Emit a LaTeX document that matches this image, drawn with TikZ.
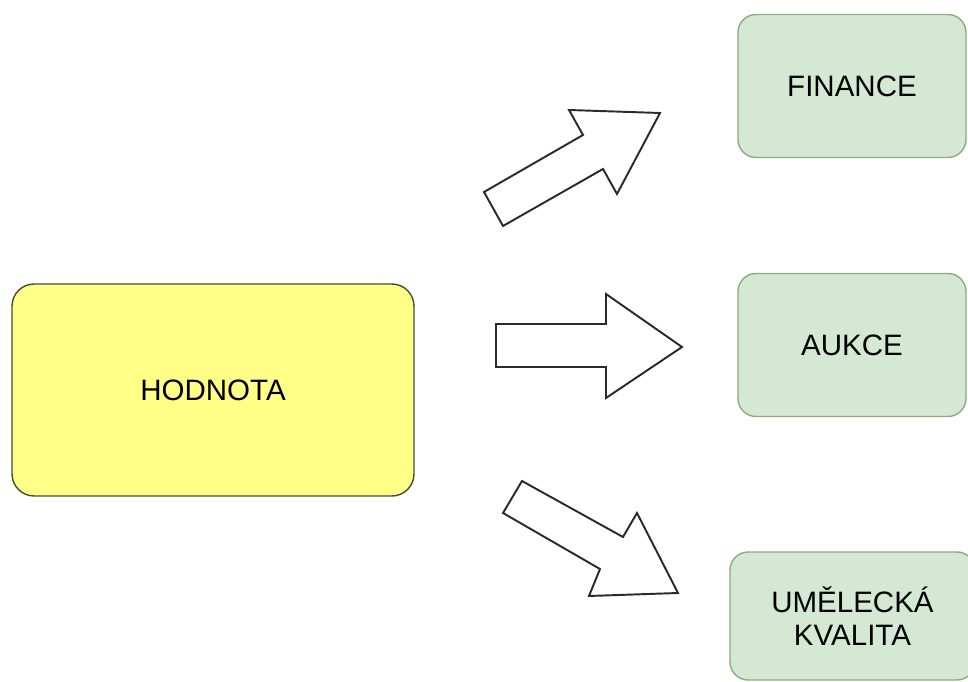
\documentclass[tikz,border=0pt]{standalone}
\usepackage{fontspec}
\setmainfont{Liberation Sans}
\definecolor{yfill}{HTML}{FFFF88}
\definecolor{ydraw}{HTML}{4A4A30}
\definecolor{gfill}{HTML}{D5E8D4}
\definecolor{gdraw}{HTML}{8DAA80}
\definecolor{adraw}{HTML}{2A2A2A}
\begin{document}
\begin{tikzpicture}[x=0.02cm,y=-0.02cm,
  lbl/.style={font=\fontsize{16.8}{18.7}\selectfont, text=black, align=center, inner sep=0pt},
  ybox/.style={lbl, draw=ydraw, fill=yfill, line width=0.8pt, rounded corners=0.44cm, minimum width=8.04cm, minimum height=4.24cm},
  gbox/.style={lbl, draw=gdraw, fill=gfill, line width=0.8pt, rounded corners=0.36cm, minimum width=4.56cm, minimum height=2.86cm},
  blockarrow/.style={draw=adraw, fill=white, line width=1.1pt, line join=miter}]
\useasboundingbox (0,0) rectangle (968,682);
\node[ybox] (hod) at (213,390) {HODNOTA};
\node[gbox] (fin) at (852,86) {FINANCE};
\node[gbox] (auk) at (852,345) {AUKCE};
\node[gbox, minimum width=4.9cm, minimum height=2.56cm] (umel) at (852.5,616) {UMĚLECKÁ\\KVALITA};
% up-right block arrow
\draw[blockarrow] (484,192) -- (503,226) -- (603,169) -- (617,194) -- (660,113) -- (569,110) -- (583,135) -- cycle;
% horizontal block arrow
\draw[blockarrow] (496,324) -- (606,324) -- (606,294) -- (682,347) -- (606,398) -- (606,367) -- (496,367) -- cycle;
% down-right block arrow
\draw[blockarrow] (522,481) -- (503,513) -- (600,569) -- (589,596) -- (678,593) -- (637,513) -- (623,537) -- cycle;
\end{tikzpicture}
\end{document}
